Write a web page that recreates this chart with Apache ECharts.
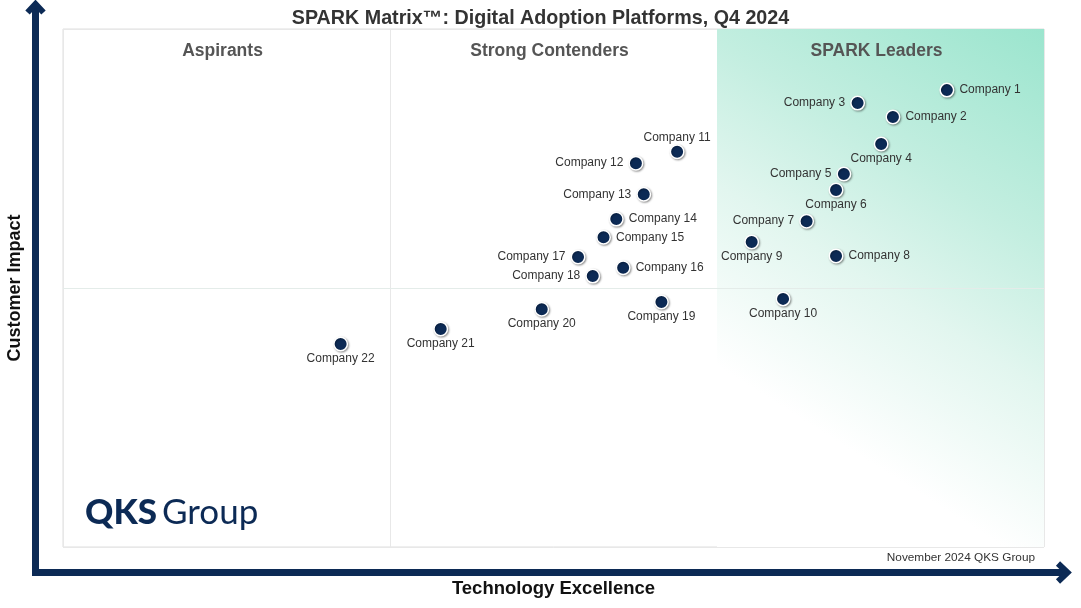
<!DOCTYPE html>
<html>
<head>
<meta charset="utf-8">
<script src="https://cdn.jsdelivr.net/npm/echarts@6/dist/echarts.min.js"></script>
<style>
  html, body { margin: 0; padding: 0; background: #fff; }
  #chart { width: 1081px; height: 608px; }
</style>
</head>
<body>
<div id="chart"></div>
<script>
// ---- data ----
var companies = ['Company 1', 'Company 2', 'Company 3', 'Company 4', 'Company 5', 'Company 6',
                 'Company 7', 'Company 8', 'Company 9', 'Company 10', 'Company 11', 'Company 12',
                 'Company 13', 'Company 14', 'Company 15', 'Company 16', 'Company 17', 'Company 18',
                 'Company 19', 'Company 20', 'Company 21', 'Company 22'];
var techExcellence = [90.1, 84.6, 81.0, 83.4, 79.6, 78.8, 75.8, 78.8, 70.2, 73.4, 62.6, 58.4,
                      59.2, 56.4, 55.1, 57.1, 52.5, 54.0, 61.0, 48.8, 38.5, 28.3];
var customerImpact = [88.2, 83.0, 85.7, 77.8, 72.0, 68.9, 62.9, 56.2, 58.9, 47.9, 76.3, 74.1,
                      68.1, 63.3, 59.8, 53.9, 56.0, 52.3, 47.3, 45.9, 42.1, 39.2];
var labelSide = ['right', 'right', 'left', 'bottom', 'left', 'bottom', 'left', 'right', 'bottom',
                 'bottom', 'top', 'left', 'left', 'right', 'right', 'right', 'left', 'left',
                 'bottom', 'bottom', 'bottom', 'bottom'];
var quadrantNames = ['Aspirants', 'Strong Contenders', 'SPARK Leaders'];
var chartTitle = 'SPARK Matrix\u2122: Digital Adoption Platforms, Q4 2024';
var footNote = 'November 2024 QKS Group';

var NAVY = '#0c2a55';
var FONT = '"Liberation Sans", Arial, sans-serif';

// grid box in pixels
var G = { left: 63, top: 29, width: 981, height: 518 };

function point_data(){
    return companies.map(function (name, i) {
        var side = labelSide[i];
        return {
            name: name,
            value: [techExcellence[i], customerImpact[i]],
            label: { position: side, distance: (side == 'left' || side == 'right') ? 5 : 1 }
        };
    });
}

function quadrant_titles(){
    var third = G.width / 3;
    return quadrantNames.map(function (t, i) {
        return {
            type: 'text',
            z: 20,
            x: G.left + third * i + third / 2 - 4,
            y: 51.5,
            style: {
                text: t, fill: '#555', font: 'bold 17.5px ' + FONT,
                align: 'center', verticalAlign: 'middle'
            }
        };
    });
}

function arrows(){
    return [
        { type: 'polyline', z: 20, shape: { points: [[35.5, 575.5], [35.5, 4]] },
          style: { stroke: NAVY, lineWidth: 7, fill: null } },
        { type: 'polyline', z: 20, shape: { points: [[32, 572.5], [1068, 572.5]] },
          style: { stroke: NAVY, lineWidth: 7, fill: null } },
        { type: 'polyline', z: 20, shape: { points: [[27.5, 12.5], [35.5, 4], [43.5, 12.5]] },
          style: { stroke: NAVY, lineWidth: 6, fill: null, lineJoin: 'miter' } },
        { type: 'polyline', z: 20, shape: { points: [[1058, 563.5], [1067.5, 572.5], [1058, 581.5]] },
          style: { stroke: NAVY, lineWidth: 6, fill: null, lineJoin: 'miter' } }
    ];
}

var chart = echarts.init(document.getElementById('chart'), null, { renderer: 'canvas' });

var options = {
    backgroundColor: '#fff',
    animation: false,
    title: {
        text: chartTitle,
        left: 'center',
        top: 4,
        textStyle: { color: '#333', fontSize: 19.7, fontWeight: 'bold', fontFamily: FONT }
    },
    grid: {
        left: G.left, top: G.top, width: G.width, height: G.height,
        outerBoundsMode: 'none', containLabel: false,
        show: true, borderColor: '#dedede', borderWidth: 1, backgroundColor: 'transparent'
    },
    xAxis: {
        type: 'value', min: 0, max: 100, interval: 100 / 3,
        name: 'Technology Excellence', nameLocation: 'middle', nameGap: 32,
        nameTextStyle: { color: '#111', fontSize: 18.5, fontWeight: 'bold', fontFamily: FONT },
        axisLine: { show: false }, axisTick: { show: false }, axisLabel: { show: false },
        splitLine: { show: true, lineStyle: { color: '#e8e8e8', width: 1 } }
    },
    yAxis: {
        type: 'value', min: 0, max: 100, interval: 50,
        name: 'Customer Impact', nameLocation: 'middle', nameGap: 39,
        nameTextStyle: { color: '#111', fontSize: 18, fontWeight: 'bold', fontFamily: FONT },
        axisLine: { show: false }, axisTick: { show: false }, axisLabel: { show: false },
        splitLine: { show: true, lineStyle: { color: '#e8e8e8', width: 1 } }
    },
    graphic: quadrant_titles().concat(arrows()).concat([
        { type: 'text', z: 20, x: 85, y: 513,
          style: { text: 'QKS', fill: NAVY, font: '900 35px Lato, sans-serif', verticalAlign: 'middle' } },
        { type: 'text', z: 20, x: 162, y: 513,
          style: { text: 'Group', fill: NAVY, font: '400 35px Lato, sans-serif', verticalAlign: 'middle' } },
        { type: 'text', z: 20, x: 1035, y: 558,
          style: { text: footNote, fill: '#333', font: '11.8px ' + FONT, align: 'right', verticalAlign: 'middle' } }
    ]),
    series: [{
        type: 'scatter',
        name: 'Vendors',
        symbolSize: 13.5,
        z: 5,
        data: point_data(),
        itemStyle: {
            color: NAVY, opacity: 1, borderColor: '#fff', borderWidth: 1.5,
            shadowBlur: 2, shadowOffsetX: 1, shadowOffsetY: 1, shadowColor: 'rgba(0,0,0,0.35)'
        },
        label: {
            show: true,
            formatter: '{b}',
            color: '#333',
            fontSize: 12,
            fontFamily: FONT
        },
        markArea: {
            silent: true,
            itemStyle: {
                color: {
                    type: 'linear', x: 1, y: 0, x2: 0, y2: 1,
                    colorStops: [
                        { offset: 0, color: '#9be5ce' },
                        { offset: 0.3, color: '#c3eee0' },
                        { offset: 0.5, color: '#e2f6ef' },
                        { offset: 0.75, color: '#ffffff' },
                        { offset: 1, color: '#ffffff' }
                    ]
                }
            },
            data: [[{ xAxis: 200 / 3, yAxis: 100 }, { xAxis: 100, yAxis: 0 }]]
        },
        markLine: {
            silent: true,
            symbol: 'none',
            label: { show: false },
            lineStyle: { color: '#e4ece9', type: 'solid', width: 1 },
            data: [{ yAxis: 50 }]
        }
    }]
};

chart.setOption(options);
</script>
</body>
</html>
